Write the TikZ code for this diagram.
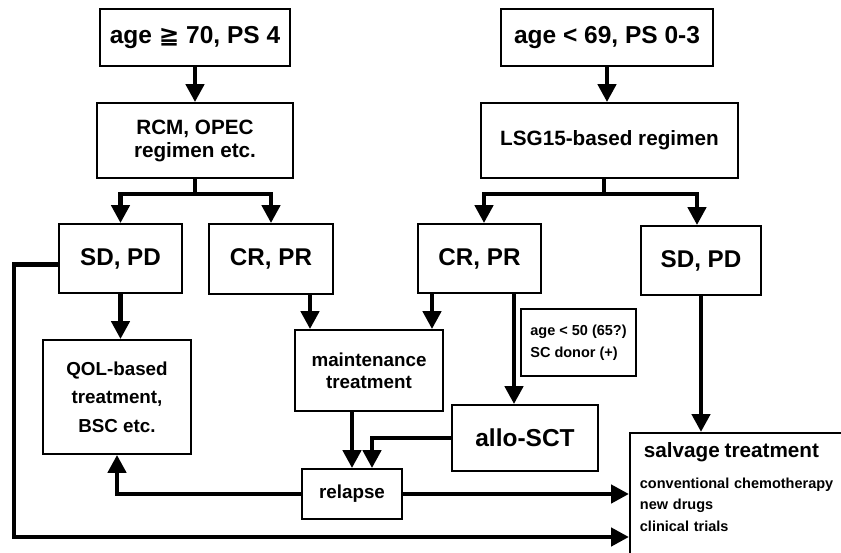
\documentclass[tikz,border=0pt]{standalone}
\usepackage{fontspec}
\setmainfont{Liberation Sans}
\newfontfamily\symfont{DejaVu Sans}
\usetikzlibrary{arrows.meta, positioning, calc}

\tikzset{
  box/.style={draw, rectangle, line width=1.8pt, align=center, inner sep=0pt},
  flow/.style={line width=4.5pt, -{Triangle[length=18pt, width=18pt]}},
  link/.style={line width=4.5pt},
}

\begin{document}
\begin{tikzpicture}[x=1pt, y=-1pt]
\useasboundingbox (0,0) rectangle (841,553);
\clip (0,0) rectangle (841,553);

% patient groups
\node[box, minimum width=190pt, minimum height=57pt, font=\bfseries\fontsize{24.5}{28}\selectfont] (elderly) at (195,37.5)
   {age {\symfont ≧} 70, PS 4};
\node[box, minimum width=212pt, minimum height=57pt, font=\bfseries\fontsize{24.5}{28}\selectfont] (young) at (607,37.5)
   {age < 69, PS 0-3};

% first-line regimens
\node[box, minimum width=196pt, minimum height=75pt, font=\bfseries\fontsize{20.7}{23}\selectfont] (rcm) at (195,140.5)
   {RCM, OPEC\\regimen etc.};
\node[box, minimum width=257pt, minimum height=75pt, font=\bfseries\fontsize{20.7}{23}\selectfont] (lsg) at (609.5,140.5)
   {LSG15-based regimen};

% responses
\node[box, minimum width=123pt, minimum height=69pt, font=\bfseries\fontsize{24.2}{28}\selectfont] (sdpdL) at (120.5,258.5) {SD, PD};
\node[box, minimum width=124pt, minimum height=70pt, font=\bfseries\fontsize{24.2}{28}\selectfont] (crprL) at (271,259) {CR, PR};
\node[box, minimum width=123pt, minimum height=69pt, font=\bfseries\fontsize{24.2}{28}\selectfont] (crprR) at (479.5,258.5) {CR, PR};
\node[box, minimum width=120pt, minimum height=69pt, font=\bfseries\fontsize{24.2}{28}\selectfont] (sdpdR) at (701,260.5) {SD, PD};

% follow-up
\node[box, minimum width=148pt, minimum height=114pt, font=\bfseries\fontsize{18.8}{28.5}\selectfont] (qol) at (117,397)
   {QOL-based\\treatment,\\BSC etc.};
\node[box, minimum width=148pt, minimum height=81pt, font=\bfseries\fontsize{18.8}{22}\selectfont] (maint) at (369,370.5)
   {maintenance\\treatment};
\node[box, align=left, minimum width=115pt, minimum height=67pt, font=\bfseries\fontsize{14.5}{22}\selectfont] (donor) at (578.5,342.5)
   {age < 50 (65?)\\SC donor (+)};
\node[box, minimum width=146pt, minimum height=66pt, font=\bfseries\fontsize{24.5}{28}\selectfont] (allo) at (525,438) {allo-SCT};
\node[box, minimum width=100pt, minimum height=50pt, font=\bfseries\fontsize{18.8}{22}\selectfont] (relapse) at (352,494) {relapse};
\node[draw, line width=1.8pt, anchor=north west, inner xsep=10pt, inner ysep=10pt, text width=330pt, align=left,
      text depth=150pt, font=\bfseries\fontsize{14.5}{21.5}\selectfont] (salvage) at (629,432)
   {{\fontsize{20.7}{22}\selectfont\hspace*{4pt}salvage treatment}\\[9pt]
    conventional chemotherapy\\new drugs\\clinical trials};

% arrows from the top
\draw[flow] (elderly) -- (rcm);
\draw[flow] (young.south) -- (young.south |- lsg.north);

\coordinate (rcmfork) at (195,194);
\draw[link] (rcm.south) -- (rcmfork);
\draw[flow] (rcmfork) -| (sdpdL.north);
\draw[flow] (rcmfork) -| (crprL.north);

\coordinate (lsgfork) at (604,194);
\draw[link] (lsgfork |- lsg.south) -- (lsgfork);
\draw[flow] (lsgfork) -| ([xshift=4.5pt]crprR.north);
\draw[flow] (lsgfork) -| ([xshift=-4pt]sdpdR.north);

% after response
\draw[flow] (sdpdL.south) -- (sdpdL.south |- qol.north);
\draw[flow] ([xshift=39pt]crprL.south) -- ([xshift=39pt]crprL.south |- maint.north);
\draw[flow] ([xshift=-47.5pt]crprR.south) -- ([xshift=-47.5pt]crprR.south |- maint.north);
\draw[flow] ([xshift=34.5pt]crprR.south) -- ([xshift=34.5pt]crprR.south |- allo.north);
\draw[flow] (sdpdR.south) -- (sdpdR.south |- salvage.north);

% relapse
\draw[flow] (relapse.north |- maint.south) -- (relapse.north);
\draw[flow] (allo.west) -| ([xshift=20pt]relapse.north);
\draw[flow] (relapse.west) -| (qol.south);
\draw[flow] (relapse.east) -- (relapse.east -| salvage.west);

\coordinate (bypass) at (14,537);
\draw[flow] ([yshift=-6pt]sdpdL.west) -| (bypass) -- (bypass -| salvage.west);
\end{tikzpicture}
\end{document}
